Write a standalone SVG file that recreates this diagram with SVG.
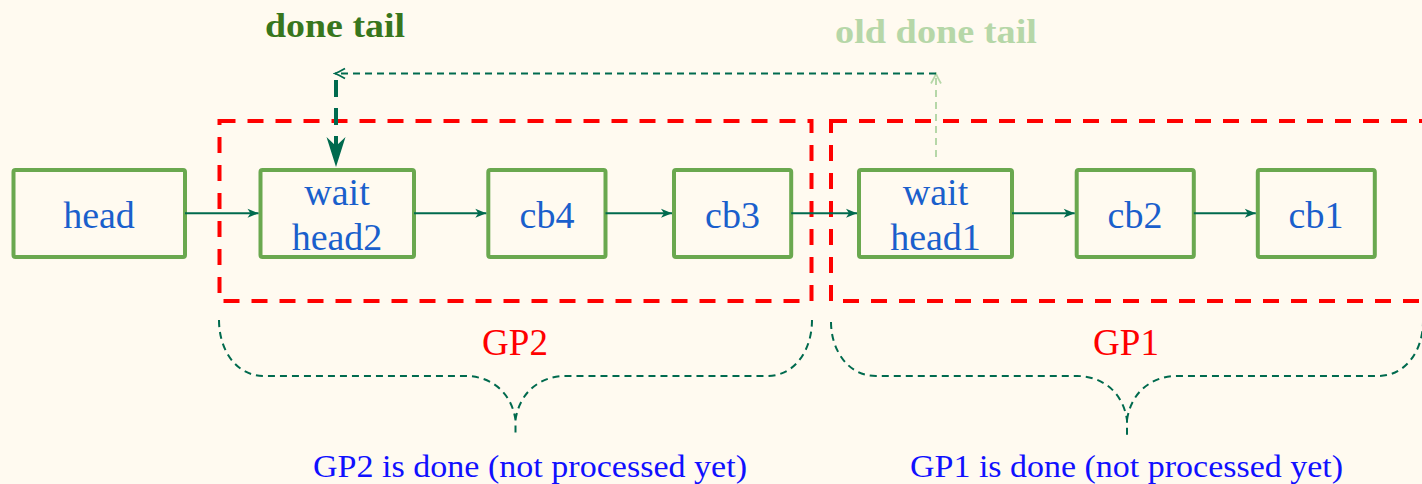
<svg xmlns="http://www.w3.org/2000/svg" width="1422" height="484" viewBox="0 0 1422 484">
  <style>
    .node rect { fill: none; stroke: #6aa84f; stroke-width: 4; }
    .node text { font-family: "Liberation Serif", "DejaVu Serif", serif; font-size: 38px; fill: #1a5fcc; text-anchor: middle; }
    .group { fill: none; stroke: #ff0000; stroke-width: 4; stroke-dasharray: 16 12; }
    .conn { fill: none; stroke: #006a4e; stroke-width: 2; }
    .brace { fill: none; stroke: #006a4e; stroke-width: 2; stroke-dasharray: 7 5; }
    .gplabel { font-family: "Liberation Serif", "DejaVu Serif", serif; font-size: 37px; fill: #ff0000; text-anchor: middle; }
    .note { font-family: "Liberation Serif", "DejaVu Serif", serif; font-size: 32px; fill: #1010ff; }
    .tail { font-family: "Liberation Serif", "DejaVu Serif", serif; font-size: 34px; font-weight: bold; }
  </style>
  <defs>
    <marker id="stealth" viewBox="-12 -6 13 12" refX="0" refY="0" markerWidth="13" markerHeight="12" markerUnits="userSpaceOnUse" orient="auto">
      <path d="M0,0 L-11,-4.5 L-8,0 L-11,4.5 Z" fill="#006a4e"/>
    </marker>
    <marker id="bigstealth" viewBox="-32 -11 33 22" refX="0" refY="0" markerWidth="33" markerHeight="22" markerUnits="userSpaceOnUse" orient="auto">
      <path d="M0,0 L-30,-9.5 L-21,0 L-30,9.5 Z" fill="#006a4e"/>
    </marker>
    <marker id="chevdark" viewBox="-12 -7 14 14" refX="0" refY="0" markerWidth="14" markerHeight="14" markerUnits="userSpaceOnUse" orient="auto">
      <path d="M-10,-5 Q-3,-1 0,0 Q-3,1 -10,5" fill="none" stroke="#006a4e" stroke-width="1.8"/>
    </marker>
    <marker id="chevlight" viewBox="-12 -7 14 14" refX="0" refY="0" markerWidth="14" markerHeight="14" markerUnits="userSpaceOnUse" orient="auto">
      <path d="M-10,-5 Q-3,-1 0,0 Q-3,1 -10,5" fill="none" stroke="#b6d7a8" stroke-width="1.8"/>
    </marker>
  </defs>

  <rect x="0" y="0" width="1422" height="484" fill="#fffaf0"/>

  <g id="GP2">
    <rect class="group" x="219.5" y="121" width="592" height="180"/>
    <text class="gplabel" x="515" y="355">GP2</text>
  </g>
  <g id="GP1">
    <rect class="group" x="831" y="121" width="596" height="180"/>
    <text class="gplabel" x="1126" y="355">GP1</text>
  </g>

  <g id="head" class="node">
    <rect x="13.5" y="170" width="171.5" height="87" rx="2"/>
    <text x="99" y="228">head</text>
  </g>
  <g id="waithead2" class="node">
    <rect x="260.5" y="170" width="153.5" height="87" rx="2"/>
    <text x="337" y="205">wait</text>
    <text x="337" y="250">head2</text>
  </g>
  <g id="cb4" class="node">
    <rect x="488.3" y="170" width="117.2" height="87" rx="2"/>
    <text x="547" y="228">cb4</text>
  </g>
  <g id="cb3" class="node">
    <rect x="674" y="170" width="117.2" height="87" rx="2"/>
    <text x="732.5" y="228">cb3</text>
  </g>
  <g id="waithead1" class="node">
    <rect x="859" y="170" width="153" height="87" rx="2"/>
    <text x="935.5" y="205">wait</text>
    <text x="935.5" y="250">head1</text>
  </g>
  <g id="cb2" class="node">
    <rect x="1076.7" y="170" width="117.1" height="87" rx="2"/>
    <text x="1135" y="228">cb2</text>
  </g>
  <g id="cb1" class="node">
    <rect x="1257.8" y="170" width="117" height="87" rx="2"/>
    <text x="1316" y="228">cb1</text>
  </g>

  <g id="done-tail-label">
    <text class="tail" x="335" y="37" text-anchor="middle" fill="#38761d" textLength="140" lengthAdjust="spacingAndGlyphs">done tail</text>
  </g>
  <g id="old-done-tail-label">
    <text class="tail" x="936" y="43" text-anchor="middle" fill="#b6d7a8" textLength="202" lengthAdjust="spacingAndGlyphs">old done tail</text>
  </g>

  <g id="connectors">
    <line class="conn" x1="185" y1="213.3" x2="258.5" y2="213.3" marker-end="url(#stealth)"/>
    <line class="conn" x1="414" y1="213.3" x2="486.3" y2="213.3" marker-end="url(#stealth)"/>
    <line class="conn" x1="605.5" y1="213.3" x2="672" y2="213.3" marker-end="url(#stealth)"/>
    <line class="conn" x1="791.2" y1="213.3" x2="857" y2="213.3" marker-end="url(#stealth)"/>
    <line class="conn" x1="1012" y1="213.3" x2="1074.7" y2="213.3" marker-end="url(#stealth)"/>
    <line class="conn" x1="1193.8" y1="213.3" x2="1255.8" y2="213.3" marker-end="url(#stealth)"/>

    <line x1="936" y1="157" x2="936" y2="73.5" fill="none" stroke="#b6d7a8" stroke-width="2" stroke-dasharray="7 5" marker-end="url(#chevlight)"/>
    <line x1="936" y1="73.5" x2="335" y2="73.5" fill="none" stroke="#006a4e" stroke-width="2" stroke-dasharray="7 5" marker-end="url(#chevdark)"/>
    <line x1="336" y1="80" x2="336" y2="150" fill="none" stroke="#006a4e" stroke-width="4" stroke-dasharray="17 11"/>
    <line x1="336" y1="150" x2="336" y2="167" fill="none" stroke="none" marker-end="url(#bigstealth)"/>

    <path class="brace" d="M219,320 C219,350 236,376 264,376 L465.5,376 C490.5,376 511.5,392 515.5,420 L515.5,434 M515.5,420 C519.5,392 540.5,376 565.5,376 L767,376 C795,376 812,350 812,320"/>
    <path class="brace" d="M831,322 C831,350 848,376 876,376 L1077,376 C1102,376 1123,392 1127,420 L1127,435 M1127,420 C1131,392 1152,376 1177,376 L1378,376 C1406,376 1423,350 1423,322"/>
  </g>

  <g id="notes">
    <text class="note" x="313" y="477" textLength="434" lengthAdjust="spacingAndGlyphs">GP2 is done (not processed yet)</text>
    <text class="note" x="910" y="477" textLength="433" lengthAdjust="spacingAndGlyphs">GP1 is done (not processed yet)</text>
  </g>
</svg>
